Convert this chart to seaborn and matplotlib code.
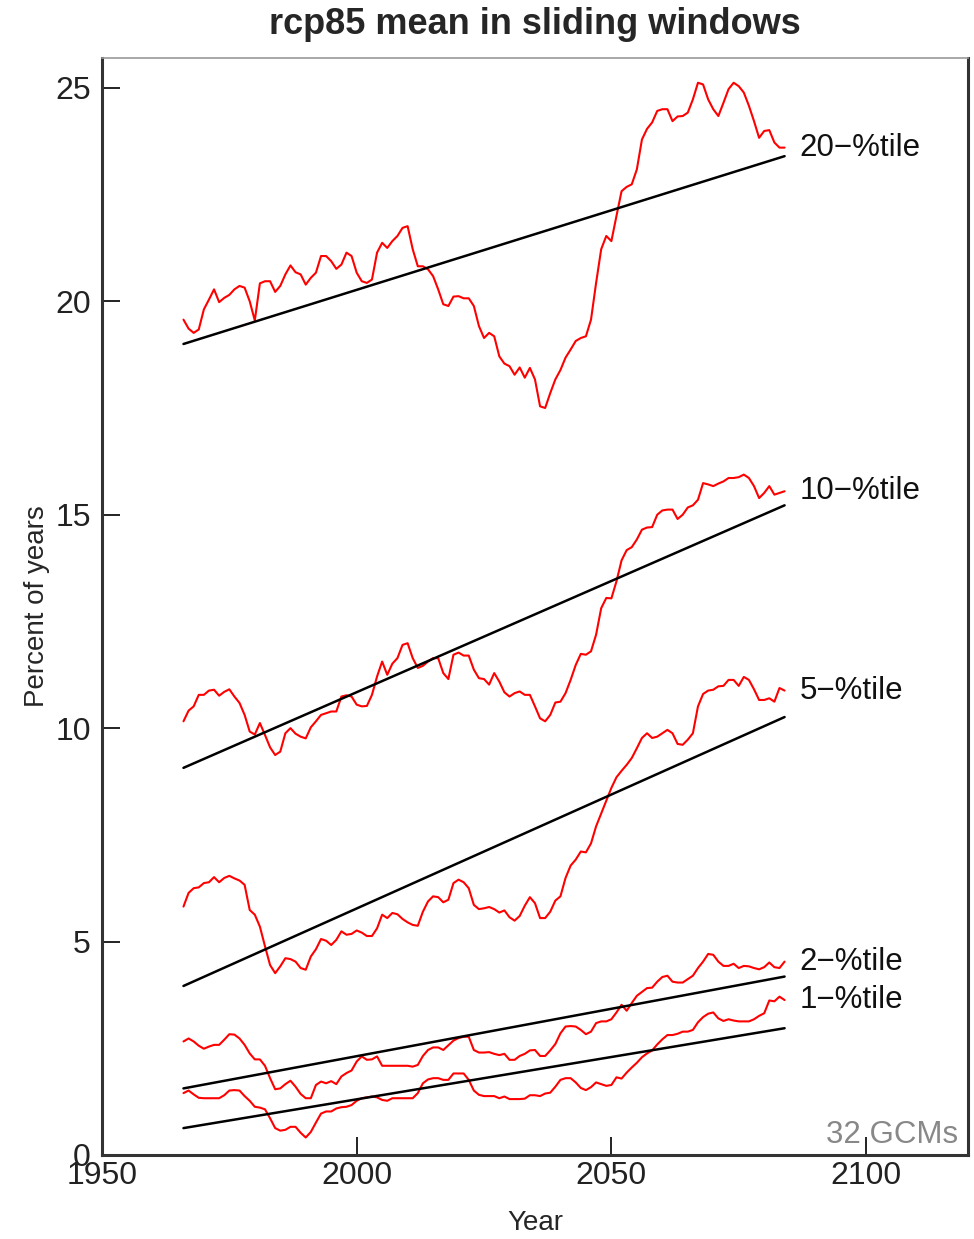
import numpy as np
import pandas as pd
import seaborn as sns
from matplotlib import pyplot as plt

sns.set_style("ticks")
plt.rcParams["font.family"] = ["Liberation Sans", "DejaVu Sans"]

years = list(range(1966, 2085))

p20 = [19.57, 19.36, 19.26, 19.34, 19.81, 20.04, 20.28, 19.98, 20.08, 20.15,
       20.28, 20.36, 20.32, 20.0, 19.55, 20.42, 20.47, 20.47, 20.22, 20.36,
       20.63, 20.84, 20.68, 20.63, 20.39, 20.55, 20.67, 21.06, 21.06, 20.94,
       20.76, 20.86, 21.14, 21.06, 20.67, 20.47, 20.43, 20.51, 21.14, 21.37,
       21.25, 21.41, 21.53, 21.72, 21.76, 21.22, 20.82, 20.82, 20.75, 20.59,
       20.28, 19.93, 19.89, 20.11, 20.12, 20.07, 20.07, 19.89, 19.42, 19.14,
       19.26, 19.18, 18.71, 18.54, 18.48, 18.28, 18.45, 18.21, 18.44, 18.17,
       17.54, 17.50, 17.85, 18.17, 18.39, 18.68, 18.87, 19.07, 19.14, 19.18,
       19.57, 20.43, 21.22, 21.53, 21.41, 22.0, 22.58, 22.68, 22.74, 23.09,
       23.79, 24.04, 24.19, 24.46, 24.50, 24.50, 24.22, 24.33, 24.34, 24.42,
       24.73, 25.12, 25.08, 24.73, 24.50, 24.34, 24.65, 24.97, 25.12, 25.04,
       24.89, 24.58, 24.22, 23.83, 23.99, 24.01, 23.72, 23.6, 23.6]

p10 = [10.16, 10.41, 10.51, 10.78, 10.78, 10.88, 10.90, 10.76, 10.85, 10.91,
       10.74, 10.59, 10.31, 9.92, 9.85, 10.12, 9.84, 9.55, 9.37, 9.45,
       9.88, 10.0, 9.87, 9.80, 9.76, 10.02, 10.16, 10.31, 10.35, 10.39,
       10.39, 10.74, 10.77, 10.74, 10.55, 10.51, 10.52, 10.78, 11.21, 11.56,
       11.25, 11.51, 11.64, 11.95, 11.99, 11.64, 11.41, 11.46, 11.56, 11.64,
       11.64, 11.29, 11.15, 11.72, 11.77, 11.70, 11.70, 11.37, 11.17, 11.15,
       11.02, 11.29, 11.09, 10.84, 10.74, 10.82, 10.86, 10.78, 10.78, 10.51,
       10.23, 10.16, 10.31, 10.6, 10.62, 10.82, 11.13, 11.48, 11.74, 11.72,
       11.80, 12.19, 12.81, 13.05, 13.04, 13.44, 13.93, 14.17, 14.24, 14.42,
       14.65, 14.70, 14.71, 15.0, 15.10, 15.12, 15.12, 14.90, 15.0, 15.17,
       15.22, 15.35, 15.74, 15.71, 15.67, 15.73, 15.78, 15.86, 15.86, 15.88,
       15.94, 15.86, 15.67, 15.39, 15.51, 15.67, 15.47, 15.51, 15.55]

p5 = [5.82, 6.14, 6.25, 6.27, 6.37, 6.39, 6.51, 6.39, 6.49, 6.54,
      6.48, 6.43, 6.33, 5.74, 5.63, 5.35, 4.89, 4.45, 4.26, 4.42,
      4.61, 4.59, 4.53, 4.38, 4.34, 4.65, 4.82, 5.06, 5.02, 4.92,
      5.04, 5.24, 5.16, 5.18, 5.26, 5.21, 5.13, 5.13, 5.31, 5.63,
      5.55, 5.67, 5.64, 5.53, 5.45, 5.39, 5.37, 5.70, 5.94, 6.06,
      6.04, 5.92, 5.98, 6.37, 6.45, 6.39, 6.25, 5.86, 5.76, 5.78,
      5.81, 5.76, 5.68, 5.73, 5.57, 5.49, 5.60, 5.84, 6.04, 5.90,
      5.55, 5.55, 5.70, 5.96, 6.06, 6.49, 6.78, 6.92, 7.11, 7.09,
      7.3, 7.7, 8.0, 8.3, 8.6, 8.85, 9.0, 9.14, 9.3, 9.53,
      9.77, 9.88, 9.77, 9.80, 9.88, 9.96, 9.88, 9.63, 9.61, 9.73,
      9.88, 10.51, 10.80, 10.88, 10.90, 10.98, 10.99, 11.13, 11.13, 10.99,
      11.2, 11.13, 10.91, 10.66, 10.66, 10.70, 10.62, 10.94, 10.88]

p2 = [2.66, 2.73, 2.66, 2.56, 2.49, 2.54, 2.58, 2.58, 2.70, 2.83,
      2.82, 2.73, 2.58, 2.38, 2.24, 2.24, 2.09, 1.80, 1.54, 1.56,
      1.66, 1.74, 1.60, 1.43, 1.33, 1.33, 1.64, 1.72, 1.68, 1.73,
      1.66, 1.84, 1.92, 1.98, 2.19, 2.31, 2.23, 2.24, 2.31, 2.09,
      2.09, 2.09, 2.09, 2.09, 2.09, 2.07, 2.11, 2.32, 2.46, 2.52,
      2.52, 2.46, 2.57, 2.68, 2.74, 2.77, 2.77, 2.46, 2.40, 2.40,
      2.41, 2.37, 2.34, 2.37, 2.23, 2.23, 2.32, 2.37, 2.45, 2.46,
      2.32, 2.32, 2.45, 2.60, 2.85, 3.01, 3.02, 3.01, 2.93, 2.83,
      2.89, 3.09, 3.13, 3.13, 3.18, 3.34, 3.52, 3.38, 3.56, 3.73,
      3.82, 3.91, 3.92, 4.06, 4.17, 4.20, 4.06, 4.04, 4.04, 4.12,
      4.20, 4.38, 4.53, 4.71, 4.69, 4.53, 4.43, 4.43, 4.48, 4.38,
      4.43, 4.42, 4.38, 4.35, 4.40, 4.51, 4.40, 4.38, 4.53]

p1 = [1.45, 1.51, 1.42, 1.34, 1.33, 1.33, 1.33, 1.33, 1.40, 1.51,
      1.52, 1.51, 1.38, 1.27, 1.13, 1.11, 1.07, 0.86, 0.63, 0.57,
      0.59, 0.66, 0.66, 0.52, 0.41, 0.54, 0.76, 0.97, 1.02, 1.02,
      1.09, 1.12, 1.13, 1.17, 1.27, 1.33, 1.35, 1.37, 1.35, 1.29,
      1.27, 1.33, 1.33, 1.33, 1.33, 1.33, 1.45, 1.68, 1.77, 1.80,
      1.80, 1.76, 1.76, 1.91, 1.91, 1.91, 1.76, 1.51, 1.41, 1.38,
      1.38, 1.38, 1.33, 1.37, 1.31, 1.31, 1.31, 1.32, 1.40, 1.40,
      1.38, 1.44, 1.46, 1.60, 1.76, 1.80, 1.80, 1.70, 1.57, 1.52,
      1.59, 1.70, 1.66, 1.62, 1.64, 1.82, 1.79, 1.93, 2.05, 2.16,
      2.29, 2.38, 2.45, 2.59, 2.71, 2.81, 2.81, 2.84, 2.89, 2.89,
      2.93, 3.11, 3.23, 3.31, 3.34, 3.20, 3.14, 3.18, 3.15, 3.13,
      3.13, 3.13, 3.18, 3.26, 3.32, 3.62, 3.60, 3.71, 3.63]

labels = ["20\u2212%tile", "10\u2212%tile", "5\u2212%tile", "2\u2212%tile", "1\u2212%tile"]
series = [p20, p10, p5, p2, p1]
# linear trend, value at first and last year
trend_start = [19.0, 9.07, 3.96, 1.56, 0.63]
trend_end = [23.4, 15.22, 10.26, 4.18, 2.97]

fig = plt.figure(figsize=(9.74, 12.39), dpi=100)
ax = fig.add_axes([0.1047, 0.0678, 0.8891, 0.8854])

for lab, vals, t0, t1 in zip(labels, series, trend_start, trend_end):
    df = pd.DataFrame({"year": years, "value": vals})
    sns.lineplot(data=df, x="year", y="value", color="#ff0000", lw=1.5, ax=ax)
    sns.lineplot(x=[years[0], years[-1]], y=[t0, t1], color="black", lw=1.8, ax=ax)
    ax.text(years[-1] + 3.0, vals[-1], lab, fontsize=22.5, va="center", ha="left",
            color="#111111")

ax.set_xlim(1950, 2120)
ax.set_ylim(0, 25.7)
ax.set_xticks([1950, 2000, 2050, 2100])
ax.set_yticks([0, 5, 10, 15, 20, 25])
ax.tick_params(direction="in", length=13, width=1.4, labelsize=23, colors="#222222",
               pad=4)
ax.tick_params(axis="y", pad=8)
for side in ["left", "bottom", "right"]:
    ax.spines[side].set_linewidth(2.2)
    ax.spines[side].set_color("#333333")
ax.spines["top"].set_linewidth(1.2)
ax.spines["top"].set_color("#999999")

ax.set_xlabel("Year", fontsize=20, labelpad=14)
ax.set_ylabel("Percent of years", fontsize=20, labelpad=4)
ax.set_title("rcp85 mean in sliding windows", fontsize=26, fontweight="bold", pad=17)
ax.text(0.989, 0.005, "32 GCMs", transform=ax.transAxes, fontsize=22.5,
        color="#888888", ha="right", va="bottom")

plt.savefig("out.png", dpi=100)
